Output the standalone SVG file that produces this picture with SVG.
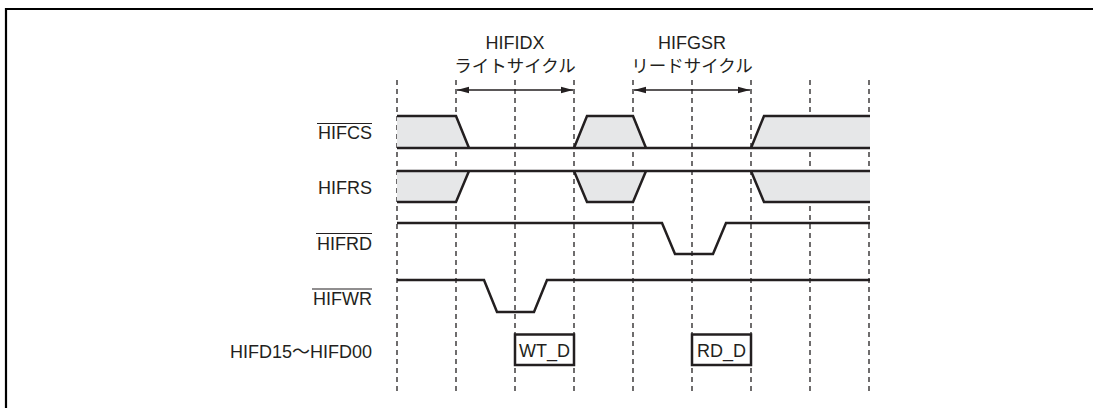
<svg xmlns="http://www.w3.org/2000/svg" width="1093" height="408" viewBox="0 0 1093 408">
<style>
.t{font-family:"Liberation Sans",Arial,"Noto Sans CJK JP",sans-serif;font-size:18px;fill:#231f20}
.j{font-family:"Noto Sans CJK JP","Liberation Sans",sans-serif;font-size:17.5px;fill:#231f20}
.lab{text-anchor:end}
.mid{text-anchor:middle}
.grid{stroke:#231f20;stroke-width:1.3;stroke-dasharray:5 4;fill:none}
.w{stroke:#231f20;stroke-width:2.5;fill:none;stroke-linejoin:miter}
.sh{fill:#e6e7e8;stroke:none}
.ov{stroke:#231f20;stroke-width:1.2}
.arr{stroke:#231f20;stroke-width:1.5;fill:none}
</style>
<defs>
<marker id="ah" markerWidth="12" markerHeight="8" refX="12" refY="4" orient="auto-start-reverse" markerUnits="userSpaceOnUse">
<path d="M0,0.8 L12,4 L0,7.2 Z" fill="#231f20"/>
</marker>
</defs>
<rect width="1093" height="408" fill="#fff"/>
<path d="M6,408 V9 H1093" stroke="#000" stroke-width="2.2" fill="none"/>

<g id="grid">
<line class="grid" x1="397" y1="80" x2="397" y2="392"/>
<line class="grid" x1="456" y1="80" x2="456" y2="392"/>
<line class="grid" x1="515" y1="80" x2="515" y2="392"/>
<line class="grid" x1="574" y1="80" x2="574" y2="392"/>
<line class="grid" x1="633" y1="80" x2="633" y2="392"/>
<line class="grid" x1="692" y1="80" x2="692" y2="392"/>
<line class="grid" x1="751" y1="80" x2="751" y2="392"/>
<line class="grid" x1="810" y1="80" x2="810" y2="392"/>
<line class="grid" x1="869" y1="80" x2="869" y2="392"/>
</g>

<g id="cycle-write">
<text class="t mid" x="515" y="49">HIFIDX</text>
<text class="j mid" x="515" y="72">ライトサイクル</text>
</g>
<g id="cycle-read">
<text class="t mid" x="692" y="49">HIFGSR</text>
<text class="j mid" x="692" y="72">リードサイクル</text>
</g>

<g id="connectors">
<line class="arr" x1="457" y1="90" x2="573" y2="90" marker-start="url(#ah)" marker-end="url(#ah)"/>
<line class="arr" x1="634" y1="90" x2="750" y2="90" marker-start="url(#ah)" marker-end="url(#ah)"/>
</g>

<g id="sig-hifcs">
<text class="t lab" x="372" y="139">HIFCS</text>
<line class="ov" x1="317" y1="123.5" x2="372" y2="123.5"/>
<path class="sh" d="M397,116 H456 L469,148 H397 Z"/>
<path class="sh" d="M574,148 L587,116 H633 L646,148 Z"/>
<path class="sh" d="M751,148 L764,116 H870 V148 Z"/>
<path class="w" d="M397,116 H456 L469,148"/>
<path class="w" d="M574,148 L587,116 H633 L646,148"/>
<path class="w" d="M751,148 L764,116 H870"/>
<line class="w" x1="397" y1="148" x2="870" y2="148"/>
</g>

<g id="sig-hifrs">
<text class="t lab" x="372" y="194">HIFRS</text>
<path class="sh" d="M397,171 H469 L456,202 H397 Z"/>
<path class="sh" d="M574,171 L587,202 H633 L646,171 Z"/>
<path class="sh" d="M751,171 L764,202 H870 V171 Z"/>
<line class="w" x1="397" y1="171" x2="870" y2="171"/>
<path class="w" d="M397,202 H456 L469,171"/>
<path class="w" d="M574,171 L587,202 H633 L646,171"/>
<path class="w" d="M751,171 L764,202 H870"/>
</g>

<g id="sig-hifrd">
<text class="t lab" x="372" y="250">HIFRD</text>
<line class="ov" x1="316" y1="233.5" x2="372" y2="233.5"/>
<path class="w" d="M397,223 H662 L675,254 H713 L726,223 H870"/>
</g>

<g id="sig-hifwr">
<text class="t lab" x="372" y="305">HIFWR</text>
<line class="ov" x1="312" y1="289" x2="372" y2="289"/>
<path class="w" d="M397,280 H484 L497,312 H534 L547,280 H870"/>
</g>

<g id="sig-hifd">
<text class="t lab" x="372" y="358">HIFD15〜HIFD00</text>
<rect class="w" x="515" y="334.5" width="59" height="30.5"/>
<text class="t mid" x="544.5" y="357">WT_D</text>
<rect class="w" x="692" y="334.5" width="59" height="30.5"/>
<text class="t mid" x="721.5" y="357">RD_D</text>
</g>
</svg>
